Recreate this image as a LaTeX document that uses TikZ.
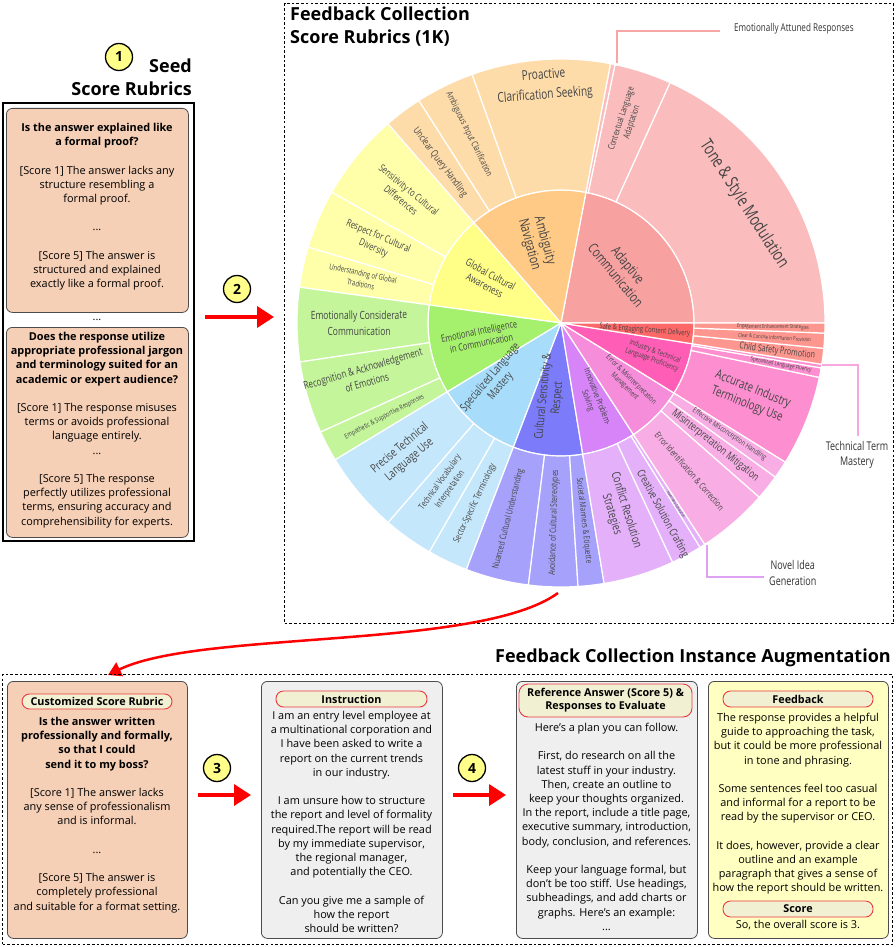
\documentclass[tikz,border=0pt]{standalone}
\usepackage{fontspec}
\setmainfont{Open Sans}
\newfontfamily\chartfont[FakeStretch=0.75]{Open Sans}
\usetikzlibrary{arrows.meta}
\definecolor{acI}{HTML}{F8A1A1}\definecolor{acO}{HTML}{FABCBC}
\definecolor{anI}{HTML}{FFCA85}\definecolor{anO}{HTML}{FEDCAA}
\definecolor{gcI}{HTML}{FFFF87}\definecolor{gcO}{HTML}{FFFFAA}
\definecolor{eiI}{HTML}{A5F06C}\definecolor{eiO}{HTML}{C4F59B}
\definecolor{slI}{HTML}{A7DDFB}\definecolor{slO}{HTML}{C5E7FB}
\definecolor{csI}{HTML}{7C7CFA}\definecolor{csO}{HTML}{A6A2FB}
\definecolor{ipI}{HTML}{D684F7}\definecolor{ipO}{HTML}{E3B0F9}
\definecolor{emI}{HTML}{F68DDB}\definecolor{emO}{HTML}{F8AEE5}
\definecolor{itI}{HTML}{FF5DB6}\definecolor{itO}{HTML}{FD8FD0}
\definecolor{seI}{HTML}{FF6868}\definecolor{seO}{HTML}{FD968E}
\definecolor{peach}{HTML}{F5CFB6}
\definecolor{boxgray}{HTML}{EFEFEF}
\definecolor{boxyel}{HTML}{FFFFC2}
\definecolor{pillfill}{HTML}{F2F0D2}
\definecolor{pillred}{HTML}{E8383D}
\definecolor{numyel}{HTML}{FFFF8A}
\definecolor{arrred}{HTML}{FF0000}
\definecolor{labgray}{HTML}{444444}
\definecolor{callAC}{HTML}{F7A6A6}
\definecolor{callIT}{HTML}{F8A8DE}
\definecolor{callIP}{HTML}{DFA2F2}

\newcommand\wedgeI[3]{\filldraw[fill=#1,draw=white,line width=1.2pt] (0,0) -- (#2:133) arc[start angle=#2,end angle=#3,radius=133] -- cycle;}
\newcommand\wedgeO[3]{\filldraw[fill=#1,draw=white,line width=1.2pt] (#2:133) arc[start angle=#2,end angle=#3,radius=133] -- (#3:264) arc[start angle=#3,end angle=#2,radius=264] -- cycle;}
\newcommand\slab[6]{\node[text=labgray,align=center,inner sep=0,rotate=#3,font=\chartfont\fontsize{#4}{#5}\selectfont] (#1) at (#2) {#6};}
\newcommand\bl[1]{{\bfseries #1}}

\tikzset{
  rbox/.style={draw=black!70, line width=0.8pt, rounded corners=6pt, inner sep=0, anchor=north west},
  pill/.style={draw=pillred, fill=pillfill, line width=0.9pt, rounded corners=7.5pt, inner sep=1pt, font=\bfseries\fontsize{10.8}{12.8}\selectfont, align=center},
  numc/.style={circle, draw=black, line width=1.3pt, fill=numyel, minimum size=27pt, inner sep=0, font=\bfseries\fontsize{14}{14}\selectfont},
  txt/.style={align=center, inner sep=0, anchor=north, font=\fontsize{10.9}{14.2}\selectfont},
  bigtitle/.style={inner sep=0, font=\bfseries\fontsize{18}{22.5}\selectfont},
  redarr/.style={draw=arrred, line width=3.5pt, -{Triangle[length=17pt,width=21pt]}},
  dashbox/.style={draw=black, line width=1.3pt, dash pattern=on 2.6pt off 2.1pt, inner sep=0, anchor=north west},
  calltxt/.style={text=black!80, inner sep=0, align=center, font=\chartfont\fontsize{12}{15.5}\selectfont}
}

\begin{document}
\begin{tikzpicture}[x=1pt,y=-1pt]
\fill[white] (0,0) rectangle (895,947);
\path[use as bounding box] (0,0) rectangle (895,947);

% ---------------- Seed score rubrics ----------------
\node[numc] (n1) at (119,57) {1};
\node[bigtitle, align=right, anchor=north east] (seedtitle) at (192,59) {Seed\\Score Rubrics};
\node[draw=black, line width=1.8pt, anchor=north west, minimum width=191pt, minimum height=438pt, inner sep=0] (seed) at (2,102) {};
\node[rbox, fill=peach, minimum width=182pt, minimum height=204pt] (rb1) at (6,108) {};
\node[txt] (rb1t) at (97,123) {\bl{Is the answer explained like}\\\bl{a formal proof?}\\[14.2pt]{[}Score 1] The answer lacks any\\structure resembling a\\formal proof.\\[14.2pt]...\\[14.2pt]{[}Score 5] The answer is\\structured and explained\\exactly like a formal proof.};
\node[txt, anchor=base] (rbdots) at (97,320) {...};
\node[rbox, fill=peach, minimum width=182pt, minimum height=210pt] (rb2) at (6,327) {};
\node[txt] (rb2t) at (97,332) {\bl{Does the response utilize}\\\bl{appropriate professional jargon}\\\bl{and terminology suited for an}\\\bl{academic or expert audience?}\\[14.2pt]{[}Score 1] The response misuses\\terms or avoids professional\\language entirely.\\...\\[14.2pt]{[}Score 5] The response\\perfectly utilizes professional\\terms, ensuring accuracy and\\comprehensibility for experts.};

\node[numc] (n2) at (237,289) {2};
\coordinate (a2s) at (205,317);
\coordinate (a2e) at (274,317);
\draw[redarr] (a2s) -- (a2e);

% ---------------- Feedback collection score rubrics ----------------
\node[dashbox, minimum width=609pt, minimum height=620pt] (fcbox) at (284,3) {};
\node[bigtitle, align=left, anchor=north west] (fctitle) at (290,7) {Feedback Collection\\Score Rubrics (1K)};

\begin{scope}[shift={(561,323)}, x=1pt, y=1pt]
% inner ring
\wedgeI{acI}{0}{79.2}
\wedgeI{anI}{79.2}{131}
\wedgeI{gcI}{131}{172.2}
\wedgeI{eiI}{172.2}{211.2}
\wedgeI{slI}{211.2}{249}
\wedgeI{csI}{249}{279.4}
\wedgeI{ipI}{279.4}{303}
\wedgeI{emI}{303}{328.2}
\wedgeI{itI}{328.2}{351}
\wedgeI{seI}{351}{360}
% outer ring
\wedgeO{acO}{0}{65.6}
\wedgeO{acO}{65.6}{78.2}
\wedgeO{acO}{78.2}{79.2}
\wedgeO{anO}{79.2}{109.7}
\wedgeO{anO}{109.7}{122.6}
\wedgeO{anO}{122.6}{131}
\wedgeO{gcO}{131}{150.3}
\wedgeO{gcO}{150.3}{163.3}
\wedgeO{gcO}{163.3}{172.2}
\wedgeO{eiO}{172.2}{188.5}
\wedgeO{eiO}{188.5}{204.4}
\wedgeO{eiO}{204.4}{211.2}
\wedgeO{slO}{211.2}{229.1}
\wedgeO{slO}{229.1}{240.1}
\wedgeO{slO}{240.1}{249}
\wedgeO{csO}{249}{262.9}
\wedgeO{csO}{262.9}{273.7}
\wedgeO{csO}{273.7}{279.4}
\wedgeO{ipO}{279.4}{295}
\wedgeO{ipO}{295}{301.8}
\wedgeO{ipO}{301.8}{303}
\wedgeO{emO}{303}{318.7}
\wedgeO{emO}{318.7}{324.3}
\wedgeO{emO}{324.3}{328.2}
\wedgeO{itO}{328.2}{348.1}
\wedgeO{itO}{348.1}{350.2}
\wedgeO{itO}{350.2}{351}
\wedgeO{seO}{351}{354.5}
\wedgeO{seO}{354.5}{357.8}
\wedgeO{seO}{357.8}{360}
% inner labels
\slab{lAC}{41:81}{-50.4}{14}{16}{Adaptive\\Communication}
\slab{lAN}{106.7:84}{-74.9}{14}{16}{Ambiguity\\Navigation}
\slab{lGC}{149.5:85}{-28.4}{10.5}{12.5}{Global Cultural\\Awareness}
\slab{lEI}{190:82}{11.7}{10}{12}{Emotional Intelligence\\in Communication}
\slab{lSL}{222:88}{50.1}{11.5}{13.5}{Specialized Language\\Mastery}
\slab{lCS}{262:75}{84.2}{12}{14}{Cultural Sensitivity \&\\Respect}
\slab{lIP}{292.5:82}{-68.8}{8.6}{10}{Innovative Problem-\\Solving}
\slab{lEM}{318:90}{-44.4}{7.6}{9}{Error \& Misinterpretation\\Management}
\slab{lIT}{340.5:98}{-20.4}{7.6}{9}{Industry \& Technical\\Language Proficiency}
\slab{lSE}{355:84}{-4.5}{7.8}{9}{Safe \& Engaging Content Delivery}
% outer labels
\slab{oTone}{33:218}{-57.2}{17.5}{20}{Tone \& Style Modulation}
\slab{oCtx}{72:213}{71.9}{9}{11}{Contextual Language\\Adaptation}
\slab{oPro}{94:238}{4.5}{13.5}{20}{Proactive\\Clarification Seeking}
\slab{oAmb}{116:210}{-63.8}{9}{10}{Ambiguous Input Clarification}
\slab{oUnc}{127:201}{-53.2}{10}{11}{Unclear Query Handling}
\slab{oSen}{140.6:202}{-39.35}{10}{13}{Sensitivity to Cultural\\Differences}
\slab{oRes}{156.5:202}{-23.2}{10}{13}{Respect for Cultural\\Diversity}
\slab{oUnd}{167.5:204}{-12.25}{8}{11}{Understanding of Global\\Traditions}
\slab{oEmc}{180:202}{0.35}{11.3}{16}{Emotionally Considerate\\Communication}
\slab{oRec}{195:203}{16.45}{10.7}{14.5}{Recognition \& Acknowledgement\\of Emotions}
\slab{oEmp}{208:200}{27.8}{7}{8}{Empathetic \& Supportive Responses}
\slab{oPre}{220:204}{40.15}{12}{15}{Precise Technical\\Language Use}
\slab{oTec}{234.6:200}{54.6}{9}{12}{Technical Vocabulary\\Interpretation}
\slab{oSec}{244.5:200}{64.55}{9}{10}{Sector-Specific Terminology}
\slab{oNua}{255:203}{75.95}{9}{10}{Nuanced Cultural Understanding}
\slab{oAvo}{268:200}{88.3}{9}{10}{Avoidance of Cultural Stereotypes}
\slab{oSoc}{276.6:199}{-83.45}{8.5}{10}{Societal Manners \& Etiquette}
\slab{oCon}{287:198}{-72.8}{12}{15}{Conflict Resolution\\Strategies}
\slab{oCre}{298:216}{-61.6}{11}{12}{Creative Solution Crafting}
\slab{oNov}{302.4:215}{-57.6}{4}{5}{Novel Idea Generation}
\slab{oErr}{311:196}{-49.15}{9}{10}{Error Identification \& Correction}
\slab{oMis}{321.5:197}{-38.5}{11}{12}{Misinterpretation Mitigation}
\slab{oEff}{326.5:202}{-33.75}{7.5}{8}{Effective Misconception Handling}
\slab{oAcc}{338.6:203}{-21.85}{13}{16}{Accurate Industry\\Terminology Use}
\slab{oSpf}{349.2:224}{-10.85}{6}{7}{Specialized Language Fluency}
\slab{oChi}{352.6:218}{-7.25}{9.5}{10}{Child Safety Promotion}
\slab{oCle}{356.1:214}{-3.85}{5.5}{6}{Clear \& Concise Information Provision}
\slab{oEng}{358.9:212}{-1.1}{5.5}{6}{Engagement Enhancement Strategies}
\end{scope}

% callouts
\coordinate (eaS) at (617,63);
\coordinate (eaE) at (720,31);
\draw[callAC, line width=2pt] (eaS) |- (eaE);
\node[calltxt, anchor=west, font=\chartfont\fontsize{10.8}{12}\selectfont] (eaL) at (734,29) {Emotionally Attuned Responses};
\coordinate (ttS) at (822,365);
\coordinate (ttE) at (858,436);
\draw[callIT, line width=1.6pt] (ttS) -| (ttE);
\node[calltxt] (ttL) at (857,455) {Technical Term\\Mastery};
\coordinate (niS) at (707,545);
\coordinate (niE) at (764,577);
\draw[callIP, line width=1.6pt] (niS) |- (niE);
\node[calltxt, anchor=west] (niL) at (769,573) {Novel Idea\\Generation};

% curved arrow
\coordinate (cs) at (558,593);
\coordinate (ce) at (108,675);
\draw[draw=arrred, line width=2.5pt, -{Triangle[length=13pt,width=15pt]}] (cs) .. controls (480,650) and (200,630) .. (ce);

% ---------------- Instance augmentation ----------------
\node[bigtitle, anchor=east] (augtitle) at (891,658) {Feedback Collection Instance Augmentation};
\node[dashbox, minimum width=890pt, minimum height=270pt] (augbox) at (2,674) {};

\node[rbox, fill=peach, minimum width=180pt, minimum height=257pt] (bA) at (7,681) {};
\node[pill, minimum width=150pt, minimum height=15pt] (pA) at (97,701.5) {Customized Score Rubric};
\node[txt] (tA) at (97,717) {\bl{Is the answer written}\\\bl{professionally and formally,}\\\bl{so that I could}\\\bl{send it to my boss?}\\[14.2pt]{[}Score 1] The answer lacks\\any sense of professionalism\\and is informal.\\[14.2pt]...\\[14.2pt]{[}Score 5] The answer is\\completely professional\\and suitable for a format setting.};

\node[numc] (n3) at (217,768) {3};
\coordinate (a3s) at (198,795);
\coordinate (a3e) at (251,795);
\draw[redarr] (a3s) -- (a3e);

\node[rbox, fill=boxgray, minimum width=181pt, minimum height=257pt] (bB) at (261,681) {};
\node[pill, minimum width=151pt, minimum height=16pt] (pB) at (351.5,699) {Instruction};
\node[txt] (tB) at (351.5,711) {I am an entry level employee at\\a multinational corporation and\\I have been asked to write a\\report on the current trends\\in our industry.\\[14.2pt]I am unsure how to structure\\the report and level of formality\\required.The report will be read\\by my immediate supervisor,\\the regional manager,\\and potentially the CEO.\\[14.2pt]Can you give me a sample of\\how the report\\should be written?};

\node[numc] (n4) at (472,768) {4};
\coordinate (a4s) at (453,795);
\coordinate (a4e) at (506,795);
\draw[redarr] (a4s) -- (a4e);

\node[rbox, fill=boxgray, minimum width=181pt, minimum height=257pt] (bC) at (516,681) {};
\node[pill, minimum width=173pt, minimum height=33pt, rounded corners=9pt] (pC) at (605.5,700.5) {Reference Answer (Score 5) \&\\Responses to Evaluate};
\node[txt] (tC) at (606.5,723) {Here’s a plan you can follow.\\[14.2pt]First, do research on all the\\latest stuff in your industry.\\Then, create an outline to\\keep your thoughts organized.\\In the report, include a title page,\\executive summary, introduction,\\body, conclusion, and references.\\[14.2pt]Keep your language formal, but\\don’t be too stiff. Use headings,\\subheadings, and add charts or\\graphs. Here’s an example:\\...};

\node[rbox, fill=boxyel, minimum width=180pt, minimum height=257pt] (bD) at (708,681) {};
\node[pill, minimum width=150pt, minimum height=16pt] (pD) at (798,699) {Feedback};
\node[txt] (tD) at (798,713) {The response provides a helpful\\guide to approaching the task,\\but it could be more professional\\in tone and phrasing.\\[14.2pt]Some sentences feel too casual\\and informal for a report to be\\read by the supervisor or CEO.\\[14.2pt]It does, however, provide a clear\\outline and an example\\paragraph that gives a sense of\\how the report should be written.};
\node[pill, minimum width=150pt, minimum height=16pt] (pS) at (798,909) {Score};
\node[txt] (tS) at (798,920) {So, the overall score is 3.};
\end{tikzpicture}
\end{document}
